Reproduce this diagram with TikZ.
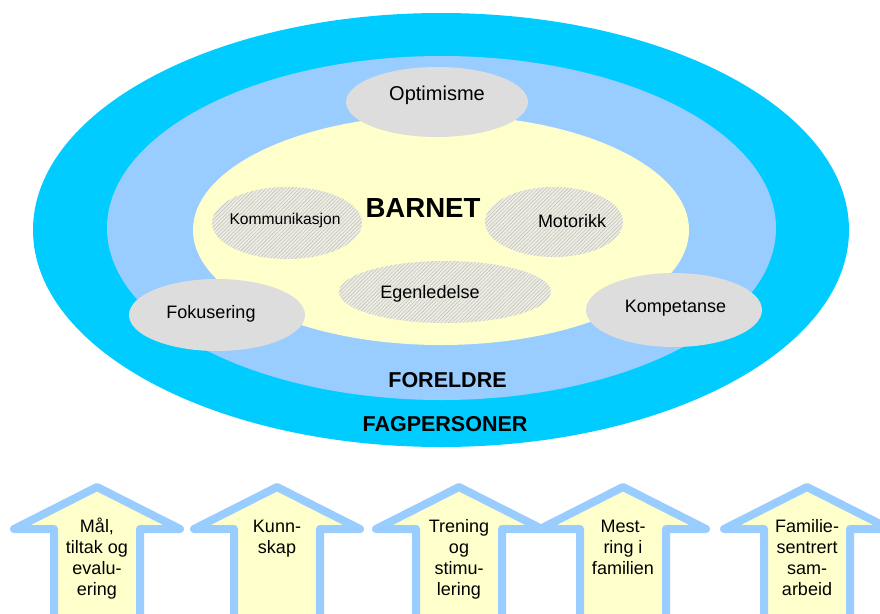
\documentclass[tikz,border=0pt]{standalone}
\usepackage{fontspec}
\setmainfont{Liberation Sans}
\usetikzlibrary{shapes.geometric,patterns.meta}
\definecolor{cyanring}{HTML}{00CCFF}
\definecolor{bluering}{HTML}{99CCFF}
\definecolor{paleyellow}{HTML}{FFFFCC}
\definecolor{greyell}{HTML}{DDDDDD}
\definecolor{hatchbg}{HTML}{EDEDE2}
\definecolor{hatchfg}{HTML}{C4C4C0}
\tikzset{
  ring/.style={ellipse, draw=none, inner sep=0pt},
  greyoval/.style={ellipse, fill=greyell, draw=none, inner sep=0pt},
  hatchoval/.style={ellipse, fill=hatchbg, draw=none, inner sep=0pt,
    postaction={pattern={Lines[angle=45,distance=2.6pt,line width=0.6pt]}, pattern color=hatchfg}},
  lbl/.style={anchor=base, inner sep=0pt, font=\fontsize{18}{21}\selectfont},
  biglbl/.style={anchor=base, inner sep=0pt, font=\bfseries\fontsize{21.5}{24}\selectfont},
  uparrow/.style={fill=paleyellow, draw=bluering, line width=8pt, line join=round, line cap=round},
  arrtext/.style={anchor=base, align=center, inner sep=0pt, font=\fontsize{18}{21}\selectfont}
}
\begin{document}
\begin{tikzpicture}[x=1pt,y=-1pt]
\useasboundingbox (0,0) rectangle (880,613);
\clip (0,0) rectangle (880,613);
% rings
\node[ring, fill=cyanring, minimum width=816pt, minimum height=434pt] (fag) at (441,230) {};
\node[ring, fill=bluering, minimum width=669pt, minimum height=344pt] (foreldre) at (441.5,228) {};
\node[ring, fill=paleyellow, minimum width=496pt, minimum height=230pt] (barnet) at (441,230) {};
% hatched ovals
\node[hatchoval, minimum width=150pt, minimum height=72pt] (komm) at (287,223) {};
\node[hatchoval, minimum width=212pt, minimum height=62pt] (egen) at (445,292) {};
\node[hatchoval, minimum width=138pt, minimum height=70pt] (motor) at (554,222) {};
% grey ovals
\node[greyoval, minimum width=182pt, minimum height=70pt] (opt) at (437,102) {};
\node[greyoval, minimum width=176pt, minimum height=72pt] (fok) at (217,315) {};
\node[greyoval, minimum width=176pt, minimum height=74pt] (komp) at (674,310) {};
% labels
\node[anchor=base, inner sep=0pt, font=\bfseries\fontsize{27.6}{30}\selectfont] (tbarnet) at (423,217) {BARNET};
\node[lbl, font=\fontsize{15.6}{18}\selectfont] (tkomm) at (285,224) {Kommunikasjon};
\node[lbl] (tegen) at (430,298) {Egenledelse};
\node[lbl] (tmotor) at (572,227) {Motorikk};
\node[lbl, font=\fontsize{20}{22}\selectfont] (topt) at (437,100) {Optimisme};
\node[lbl] (tfok) at (211,318) {Fokusering};
\node[lbl] (tkomp) at (675.5,312) {Kompetanse};
\node[biglbl] (tforeldre) at (447.5,387) {FORELDRE};
\node[biglbl] (tfag) at (445,431) {FAGPERSONER};
% up arrows
\foreach \cx in {97, 277, 459, 623, 807}{
  \draw[uparrow] (\cx-43,640) -- (\cx-43,529) -- (\cx-83,529) -- (\cx,487)
     -- (\cx+83,529) -- (\cx+43,529) -- (\cx+43,640);
}
% multi-line text: base anchor = baseline of last line (first baseline at 532, step 21)
\node[arrtext] (t1) at (97,595) {Mål,\\tiltak og\\evalu-\\ering};
\node[arrtext] (t2) at (277,553) {Kunn-\\skap};
\node[arrtext] (t3) at (459,595) {Trening\\og\\stimu-\\lering};
\node[arrtext] (t4) at (623,574) {Mest-\\ring i\\familien};
\node[arrtext] (t5) at (807,595) {Familie-\\sentrert\\sam-\\arbeid};
\end{tikzpicture}
\end{document}
